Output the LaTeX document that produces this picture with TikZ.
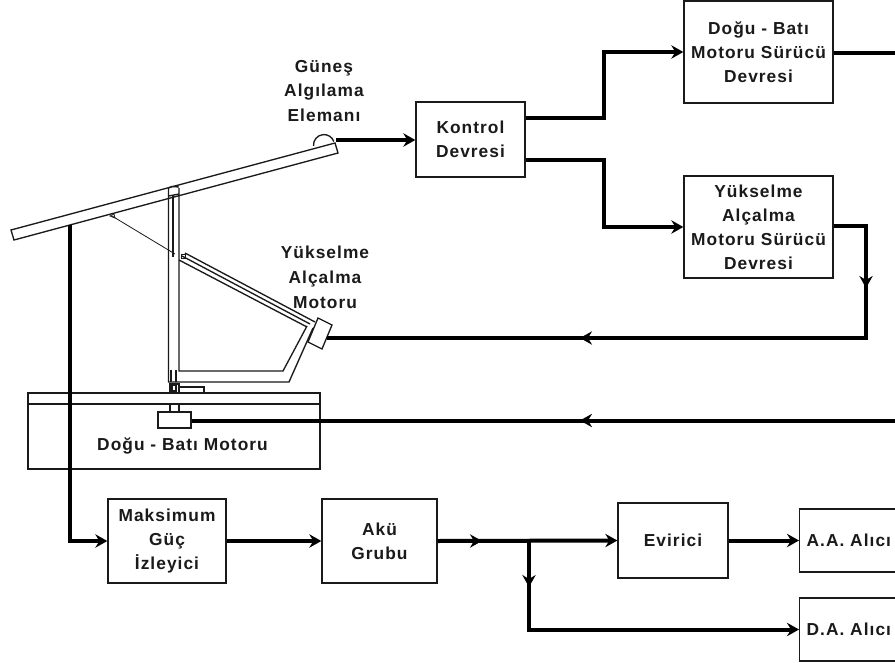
\documentclass[tikz,border=0pt]{standalone}
\usepackage{fontspec}
\setmainfont[LetterSpace=6]{Liberation Sans}
\usetikzlibrary{arrows.meta}
\definecolor{ink}{HTML}{1A1A1A}
\tikzset{
  blk/.style={draw=ink,line width=1pt,inner sep=0pt,align=center,text=ink,font=\bfseries\fontsize{13}{18}\selectfont},
  lbl/.style={inner sep=0pt,align=center,text=ink,font=\bfseries\fontsize{13}{18.7}\selectfont},
  wire/.style={line width=3pt,black,line join=miter},
  tipped/.style={-{Stealth[length=9pt,width=10pt,inset=3pt]}},
  mech/.style={draw=ink,line width=1pt,line join=miter},
  thinmech/.style={draw=ink,line width=0.6pt},
}
\begin{document}
\begin{tikzpicture}[x=0.75pt,y=-0.75pt]
\clip (0,0) rectangle (895,663);
\useasboundingbox (0,0) rectangle (895,663);
\fill[white] (0,0) rectangle (895,663);

% blocks
\node[blk,minimum width=81.75pt,minimum height=56.25pt] (ctrl) at (470.5,139.5) {Kontrol\\Devresi};
\node[blk,minimum width=111.75pt,minimum height=76.5pt] (db) at (758.5,52) {Doğu - Batı\\Motoru Sürücü\\Devresi};
\node[blk,minimum width=111.75pt,minimum height=76.5pt] (ya) at (758.5,227) {Yükselme\\Alçalma\\Motoru Sürücü\\Devresi};
\node[blk,minimum width=88.5pt,minimum height=63pt] (mppt) at (167,541) {Maksimum\\Güç\\İzleyici};
\node[blk,minimum width=86.25pt,minimum height=63pt] (aku) at (379.5,541) {Akü\\Grubu};
\node[blk,minimum width=82.5pt,minimum height=56.25pt] (ev) at (673,540.5) {Evirici};
\node[blk,anchor=west,align=left,inner xsep=5.25pt,text width=72.75pt,minimum height=47.25pt] (aa) at (799,540.5) {A.A. Alıcı};
\node[blk,anchor=west,align=left,inner xsep=5.25pt,text width=72.75pt,minimum height=47.25pt] (da) at (799,629.5) {D.A. Alıcı};

% labels
\node[lbl] (sensorlbl) at (324,91) {Güneş\\Algılama\\Elemanı};
\node[lbl] (motorlbl) at (325,277) {Yükselme\\Alçalma\\Motoru};

% base with east-west motor
\node[draw=ink,line width=1pt,minimum width=219pt,minimum height=57pt,inner sep=0pt] (base) at (174,431) {};
\draw[mech] (28,404) -- (320,404);
\node[lbl] (baselbl) at (182.5,446) {Doğu - Batı Motoru};
\node[draw=ink,line width=1pt,minimum width=24.75pt,minimum height=12pt,inner sep=0pt] (dbmotor) at (174.5,420) {};
\draw[mech] (170,404) -- (170,412) (179,404) -- (179,412);
\draw[mech] (170,393) -- (170,384) -- (179,384) -- (179,393);
\draw[mech,line width=1.4pt] (172,385) rectangle (176,391);
\draw[mech] (179,387) -- (204,387) -- (204,393);

% panel and sensor
\draw[mech,fill=white] (11,230) -- (335,143) -- (338,153) -- (14,240) -- cycle;
\draw[mech] (313.5,146) arc[start angle=175,end angle=340,radius=10.5];

% post
\draw[mech] (168.5,188) -- (168.5,382) -- (289,382) -- (313,328);
\draw[mech] (179,188) -- (179,371) -- (283,371) -- (307,326);
\draw[mech] (168.5,188) -- (172,186.5) -- (179,187);
\draw[mech] (168.5,196) -- (179,194);
\draw[mech] (173,195) -- (173,257);
\draw[mech] (171,370) -- (171,382) (176,370) -- (176,382);

% actuator
\draw[mech] (185,253) -- (315,322);
\draw[mech] (182,256) -- (310,324);
\draw[mech] (179,260) -- (307,327);
\draw[thinmech] (181,254) rectangle (185,258);
\draw[thinmech] (112,216) -- (175,254);
\draw[thinmech] (110,216) -- (114,214) -- (115,218) -- cycle;
\draw[mech,fill=white] (318,318) -- (332,325) -- (322,349) -- (308,342) -- cycle;

% connector end points and bends
\coordinate (senout) at (336,140);
\coordinate (k1) at (604,118);
\coordinate (k2) at (604,160);
\coordinate (yacorner) at (866,226);
\coordinate (yadown) at (866,338);
\coordinate (ymotor) at (327,338);
\coordinate (ymid) at (866,288);
\coordinate (ymid2) at (580,338);
\coordinate (dbright) at (895,53);
\coordinate (dbfeed) at (895,420.5);
\coordinate (dbmid) at (580,420.5);
\coordinate (pv) at (70,225);
\coordinate (pvc) at (70,541);
\coordinate (amid) at (482,541);
\coordinate (jn) at (529,541);
\coordinate (jmid) at (529,587);
\coordinate (jc) at (529,629.5);

% connectors
\draw[wire,tipped] (senout) -- (senout -| ctrl.west);
\draw[wire,tipped] (k1 -| ctrl.east) -- (k1) -- (k1 |- db.west) -- (db.west);
\draw[wire,tipped] (k2 -| ctrl.east) -- (k2) -- (k2 |- ya.west) -- (ya.west);
\draw[wire] (dbright -| db.east) -- (dbright);
\draw[wire] (yacorner -| ya.east) -- (yacorner) -- (yadown) -- (ymotor);
\draw[wire,tipped] (yacorner) -- (ymid);
\draw[wire,tipped] (yadown) -- (ymid2);
\draw[wire] (dbfeed) -- (dbfeed -| dbmotor.east);
\draw[wire,tipped] (dbfeed) -- (dbmid);
\draw[wire,tipped] (pv) -- (pvc) -- (mppt.west);
\draw[wire,tipped] (mppt.east) -- (aku.west);
\draw[wire,tipped] (aku.east) -- (amid);
\draw[wire,tipped] (aku.east) -- (ev.west);
\draw[wire,tipped] (ev.east) -- (aa.west);
\draw[wire,tipped] (jn) -- (jc) -- (da.west);
\draw[wire,tipped] (jn) -- (jmid);
\end{tikzpicture}
\end{document}
